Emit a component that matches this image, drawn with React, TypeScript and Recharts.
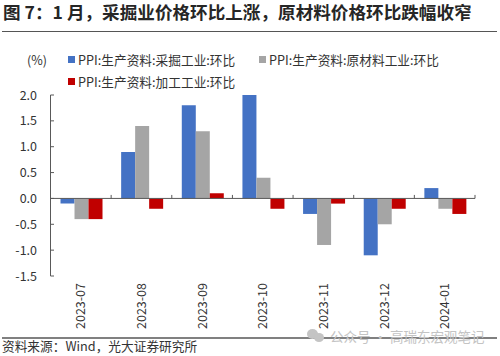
import { BarChart, Bar, XAxis, YAxis, Legend, ReferenceLine } from "recharts";

const months = ["2023-07", "2023-08", "2023-09", "2023-10", "2023-11", "2023-12", "2024-01"];
const mining = [-0.1, 0.9, 1.8, 2.0, -0.3, -1.1, 0.2];
const rawMaterial = [-0.4, 1.4, 1.3, 0.4, -0.9, -0.5, -0.2];
const processing = [-0.4, -0.2, 0.1, -0.2, -0.1, -0.2, -0.3];
const yTicks = [-1.5, -1.0, -0.5, 0, 0.5, 1.0, 1.5, 2.0];

const data = months.map((month, i) => ({
  month,
  mining: mining[i],
  rawMaterial: rawMaterial[i],
  processing: processing[i],
}));

// full-width colon and comma
const TITLE = "图 7\uFF1A1 月\uFF0C采掘业价格环比上涨\uFF0C原材料价格环比跌幅收窄";
const SOURCE = "资料来源\uFF1AWind\uFF0C光大证券研究所";

const FONT = '"Noto Sans CJK SC", "Noto Sans", sans-serif';
const TEXT = "#333";
const AXIS = "#595959";
const TOP = 95;
const BOTTOM = 276;
const LEFT = 50.5;
const RIGHT = 475;
const LEGEND_H = 44;
const ZERO_Y = TOP + ((BOTTOM - TOP) * 2) / 3.5;
const BAND = (RIGHT - LEFT) / months.length;

const XTick = (props: any) => {
  const { x, payload } = props;
  return (
    <g>
      <line x1={x + BAND / 2} x2={x + BAND / 2} y1={ZERO_Y} y2={ZERO_Y - 3.5} stroke={AXIS} />
      <text
        transform={`translate(${x + 4.5},283) rotate(-90)`}
        textAnchor="end"
        fontSize={12.5}
        fontFamily={FONT}
        fill={TEXT}
      >
        {payload.value}
      </text>
    </g>
  );
};

const YTick = (props: any) => {
  const { y, payload } = props;
  return (
    <g>
      <line x1={LEFT} x2={LEFT + 3.5} y1={y} y2={y} stroke={AXIS} />
      <text x={37} y={y + 4.5} textAnchor="end" fontSize={12.5} fontFamily={FONT} fill={TEXT}>
        {payload.value.toFixed(1)}
      </text>
    </g>
  );
};

const LegendContent = ({ payload }: any) => (
  <div style={{ display: "flex", flexWrap: "wrap", fontFamily: FONT, fontSize: 12.7, color: TEXT }}>
    {(payload || []).map((item: any) => (
      <div key={item.value} style={{ width: 191, height: 22, display: "flex", alignItems: "center" }}>
        <span style={{ width: 7, height: 7, background: item.color, marginRight: 3 }} />
        {item.value}
      </div>
    ))}
  </div>
);

export default function App() {
  return (
    <div style={{ position: "absolute", left: 0, top: 0, width: 500, height: 356, background: "#fff", overflow: "hidden" }}>
      <div style={{ position: "absolute", left: 3, top: 0, fontFamily: FONT, fontSize: 17.6, fontWeight: 700, color: "#262626", whiteSpace: "nowrap", lineHeight: "23px" }}>
        {TITLE}
      </div>
      <div style={{ position: "absolute", left: 2, top: 31, width: 495, height: 1, background: "#555" }} />
      <div style={{ position: "absolute", left: 27, top: 50, fontFamily: FONT, fontSize: 12.5, color: TEXT, lineHeight: "20px" }}>(%)</div>
      <BarChart
        width={500}
        height={356}
        data={data}
        barGap={0}
        barCategoryGap="16.5%"
        margin={{ top: TOP - LEGEND_H, right: 500 - RIGHT, bottom: 0, left: 0 }}
      >
        <XAxis dataKey="month" height={80} axisLine={false} tickLine={false} interval={0} tick={XTick} />
        <YAxis width={LEFT} domain={[-1.5, 2]} ticks={yTicks} interval={0} tickLine={false} axisLine={{ stroke: AXIS }} tick={YTick} />
        <Legend
          verticalAlign="top"
          align="left"
          itemSorter={null}
          content={LegendContent}
          wrapperStyle={{ left: 68, top: 48, width: 400 }}
        />
        <Bar dataKey="mining" name="PPI:生产资料:采掘工业:环比" fill="#4472C4" isAnimationActive={false} />
        <Bar dataKey="rawMaterial" name="PPI:生产资料:原材料工业:环比" fill="#A5A5A5" isAnimationActive={false} />
        <Bar dataKey="processing" name="PPI:生产资料:加工工业:环比" fill="#C00000" isAnimationActive={false} />
        <ReferenceLine y={0} stroke={AXIS} />
      </BarChart>
      <div style={{ position: "absolute", left: 2, top: 336.5, width: 495, height: 2, background: "#808080" }} />
      <div style={{ position: "absolute", left: 2, top: 336, fontFamily: FONT, fontSize: 12.7, color: TEXT, lineHeight: "20px", whiteSpace: "nowrap" }}>
        {SOURCE}
      </div>
      <div style={{ position: "absolute", left: 330, top: 326, fontFamily: FONT, fontSize: 13.5, color: "#c4c4c4", lineHeight: "20px", whiteSpace: "nowrap" }}>
        公众号 · 高瑞东宏观笔记
      </div>
      <div style={{ position: "absolute", left: 307, top: 329, width: 11, height: 10, borderRadius: "50%", background: "#c4c4c4" }} />
      <div style={{ position: "absolute", left: 314, top: 333, width: 10, height: 9, borderRadius: "50%", background: "#c4c4c4" }} />
    </div>
  );
}
